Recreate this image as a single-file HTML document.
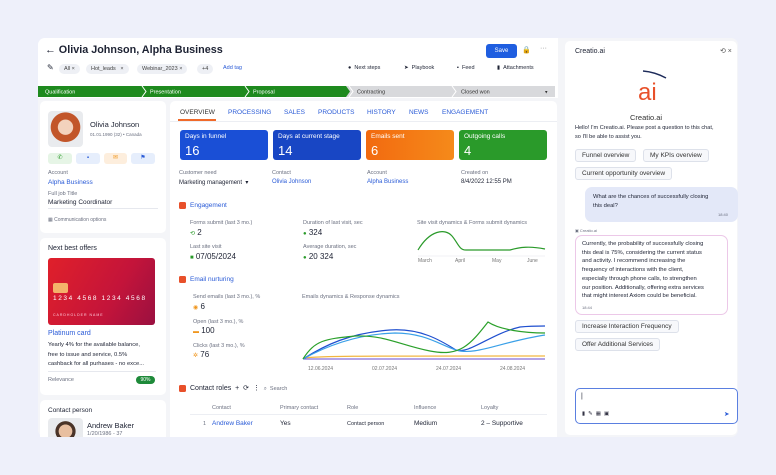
<!DOCTYPE html>
<html><head><meta charset="utf-8"><style>
*{margin:0;padding:0;box-sizing:border-box}
body{width:776px;height:475px;background:#eef0fa;font-family:"Liberation Sans",sans-serif;position:relative;overflow:hidden;color:#1d2233}
.a{position:absolute;white-space:nowrap}
.s{font-size:5.5px;color:#6b7080}
.v{font-size:6.5px;color:#1d2233}
.b{color:#2a5bd7}
.card{position:absolute;background:#fff;border-radius:5px}
.chip{position:absolute;background:#eef0f5;border-radius:7px;font-size:5.5px;color:#444;padding:0 5px;line-height:10px;height:10px}
.kpi{position:absolute;top:130px;width:88px;height:30px;border-radius:3px;color:#fff}
.kpi span{position:absolute;left:5px;top:3px;font-size:6.5px}
.kpi b{position:absolute;left:5px;top:13px;font-size:13px;font-weight:normal}
.cb{position:absolute;border:1px solid #dde1ea;border-radius:3px;background:#f7f8fb;font-size:6.5px;color:#333;padding:0 6px;line-height:12px;height:13px}
.ic{display:inline-block;width:7px;height:7px;border-radius:1.5px;background:#e8502a;vertical-align:middle;margin-right:4px}
</style></head><body>
<div class="card" style="left:38px;top:38px;width:700px;height:399px;background:#f4f5f8;border-radius:7px"></div>
<div class="a" style="left:38px;top:38px;width:520px;height:60px;background:#fff;border-radius:7px 0 0 0"></div>
<div class="a" style="left:45px;top:44px;font-size:10.8px;font-weight:bold;color:#1d2233">← Olivia Johnson, Alpha Business</div>
<div class="a" style="left:486px;top:44px;width:31px;height:14px;background:#1f5ee0;border-radius:3px;color:#fff;font-size:6px;text-align:center;line-height:14px">Save</div>
<div class="a" style="left:522px;top:46px;font-size:7px">🔒</div>
<div class="a" style="left:540px;top:45px;font-size:7px;color:#888">···</div>
<div class="a" style="left:47px;top:63px;font-size:8px">✎</div>
<div class="chip" style="left:59px;top:64px">All ×</div>
<div class="chip" style="left:86px;top:64px">Hot_leads &nbsp;&nbsp;×</div>
<div class="chip" style="left:137px;top:64px">Webinar_2023 ×</div>
<div class="chip" style="left:197px;top:64px">+4</div>
<div class="a b" style="left:223px;top:65px;font-size:5.5px">Add tag</div>
<div class="a" style="left:348px;top:65px;font-size:5.5px">● &nbsp;Next steps</div>
<div class="a" style="left:404px;top:65px;font-size:5.5px">➤ &nbsp;Playbook</div>
<div class="a" style="left:457px;top:65px;font-size:5.5px">▪ &nbsp;Feed</div>
<div class="a" style="left:497px;top:65px;font-size:5.5px">▮ &nbsp;Attachments</div>
<svg class="a" style="left:0;top:0" width="776" height="475">
<path d="M38 86H555V97H38Z" fill="#d8d9dc"/>
<path d="M38 86H346L350 91.5L346 97H38Z" fill="#1e8a1e"/>
<path d="M142 86L146 91.5L142 97M245 86L249 91.5L245 97M349 86L353 91.5L349 97M452 86L456 91.5L452 97" stroke="#fff" stroke-width="1" fill="none"/>
<text x="45" y="93.5" font-size="5.5" fill="#fff" font-family="Liberation Sans">Qualification</text>
<text x="150" y="93.5" font-size="5.5" fill="#fff" font-family="Liberation Sans">Presentation</text>
<text x="253" y="93.5" font-size="5.5" fill="#fff" font-family="Liberation Sans">Proposal</text>
<text x="357" y="93.5" font-size="5.5" fill="#333" font-family="Liberation Sans">Contracting</text>
<text x="461" y="93.5" font-size="5.5" fill="#333" font-family="Liberation Sans">Closed won</text>
<text x="545" y="93.5" font-size="5" fill="#333">▾</text>
</svg>
<!-- left cards -->
<div class="card" style="left:40px;top:101px;width:126px;height:132px"></div>
<div class="a" style="left:48px;top:111px;width:35px;height:36px;border-radius:4px;background:radial-gradient(circle at 50% 45%,#f3d2bd 0 28%,#c2562a 30% 55%,#e9ebee 57%)"></div>
<div class="a" style="left:90px;top:120px;font-size:7.5px">Olivia Johnson</div>
<div class="a s" style="left:90px;top:132px;font-size:4.5px">01.01.1990 (32) • Canada</div>
<div class="a" style="left:48px;top:153px;width:24px;height:11px;background:#e6f5e6;border-radius:3px;color:#2a9a2a;font-size:6px;text-align:center;line-height:11px">✆</div>
<div class="a" style="left:76px;top:153px;width:24px;height:11px;background:#e6eefc;border-radius:3px;color:#2a5bd7;font-size:6px;text-align:center;line-height:11px">▪</div>
<div class="a" style="left:104px;top:153px;width:23px;height:11px;background:#fdeedd;border-radius:3px;color:#f0961e;font-size:6px;text-align:center;line-height:11px">✉</div>
<div class="a" style="left:131px;top:153px;width:24px;height:11px;background:#e6eefc;border-radius:3px;color:#2a5bd7;font-size:6px;text-align:center;line-height:11px">⚑</div>
<div class="a s" style="left:48px;top:170px">Account</div>
<div class="a b" style="left:48px;top:179px;font-size:6.5px">Alpha Business</div>
<div class="a s" style="left:48px;top:191px">Full job Title</div>
<div class="a v" style="left:48px;top:199px">Marketing Coordinator</div>
<div class="a" style="left:48px;top:208px;width:110px;height:1px;background:#e6e8ee"></div>
<div class="a s" style="left:48px;top:217px;font-size:5px">▦ Communication options</div>
<div class="card" style="left:40px;top:238px;width:126px;height:157px"></div>
<div class="a" style="left:48px;top:245px;font-size:7px">Next best offers</div>
<div class="a" style="left:48px;top:258px;width:107px;height:67px;border-radius:3px;background:linear-gradient(120deg,#e0202a,#c4143a 60%,#9a1040)"></div>
<div class="a" style="left:53px;top:283px;width:15px;height:10px;background:#f4b26a;border-radius:2px"></div>
<div class="a" style="left:53px;top:295px;font-size:6.5px;color:#fff;letter-spacing:1.6px">1234 4568 1234 4568</div>
<div class="a" style="left:53px;top:313px;font-size:3.5px;color:#fcd;letter-spacing:1px">CARDHOLDER NAME</div>
<div class="a b" style="left:48px;top:330px;font-size:7px">Platinum card</div>
<div class="a v" style="left:48px;top:341px;font-size:5.8px;line-height:9.5px">Yearly 4% for the available balance,<br>free to issue and service, 0.5%<br>cashback for all purhases - no exce...</div>
<div class="a" style="left:48px;top:371px;width:108px;height:1px;background:#e6e8ee"></div>
<div class="a s" style="left:48px;top:377px">Relevance</div>
<div class="a" style="left:136px;top:376px;width:19px;height:8px;background:#1e8a3a;border-radius:4px;color:#fff;font-size:5px;text-align:center;line-height:8px">90%</div>
<div class="card" style="left:40px;top:400px;width:126px;height:37px;border-radius:5px 5px 0 0"></div>
<div class="a" style="left:48px;top:407px;font-size:6.5px">Contact person</div>
<div class="a" style="left:48px;top:418px;width:35px;height:19px;border-radius:4px 4px 0 0;background:radial-gradient(circle at 50% 70%,#e8bfa0 0 30%,#4a3428 32% 45%,#e9ebee 47%)"></div>
<div class="a" style="left:87px;top:421px;font-size:7.5px">Andrew Baker</div>
<div class="a s" style="left:87px;top:431px">1/20/1986 - 37</div>
<!-- main -->
<div class="card" style="left:170px;top:101px;width:387px;height:336px;border-radius:5px 5px 0 0"></div>
<div class="a" style="left:180px;top:109px;font-size:6.5px;color:#333">OVERVIEW</div>
<div class="a" style="left:178px;top:119px;width:38px;height:1.5px;background:#f06a2a"></div>
<div class="a b" style="left:228px;top:109px;font-size:6.5px">PROCESSING</div>
<div class="a b" style="left:284px;top:109px;font-size:6.5px">SALES</div>
<div class="a b" style="left:318px;top:109px;font-size:6.5px">PRODUCTS</div>
<div class="a b" style="left:367px;top:109px;font-size:6.5px">HISTORY</div>
<div class="a b" style="left:409px;top:109px;font-size:6.5px">NEWS</div>
<div class="a b" style="left:442px;top:109px;font-size:6.5px">ENGAGEMENT</div>
<div class="a" style="left:170px;top:121px;width:387px;height:1px;background:#eceef3"></div>
<div class="kpi" style="left:180px;background:#1a4fd6"><span>Days in funnel</span><b>16</b></div>
<div class="kpi" style="left:273px;background:#1846c4"><span>Days at current stage</span><b>14</b></div>
<div class="kpi" style="left:366px;background:linear-gradient(90deg,#f26a10,#f58a1a)"><span>Emails sent</span><b>6</b></div>
<div class="kpi" style="left:459px;background:#2a9a2a"><span>Outgoing calls</span><b>4</b></div>
<div class="a s" style="left:179px;top:170px">Customer need</div>
<div class="a v" style="left:179px;top:179px;font-size:6px">Marketing management &nbsp;▾</div>
<div class="a s" style="left:272px;top:170px">Contact</div>
<div class="a b" style="left:272px;top:179px;font-size:6px">Olivia Johnson</div>
<div class="a s" style="left:367px;top:170px">Account</div>
<div class="a b" style="left:367px;top:179px;font-size:6px">Alpha Business</div>
<div class="a s" style="left:461px;top:170px">Created on</div>
<div class="a v" style="left:461px;top:179px;font-size:6px">8/4/2022 12:55 PM</div>
<div class="a b" style="left:179px;top:202px;font-size:6.5px"><i class="ic"></i>Engagement</div>
<div class="a s" style="left:190px;top:220px">Forms submit (last 3 mo.)</div>
<div class="a v" style="left:190px;top:228px;font-size:8px"><span style="color:#2a9a2a;font-size:6px">⟲</span> 2</div>
<div class="a s" style="left:190px;top:244px">Last site visit</div>
<div class="a v" style="left:190px;top:252px;font-size:8px"><span style="color:#2a9a2a;font-size:6px">■</span> 07/05/2024</div>
<div class="a s" style="left:303px;top:220px">Duration of last visit, sec</div>
<div class="a v" style="left:303px;top:228px;font-size:8px"><span style="color:#2a9a2a;font-size:6px">●</span> 324</div>
<div class="a s" style="left:303px;top:244px">Average duration, sec</div>
<div class="a v" style="left:303px;top:252px;font-size:8px"><span style="color:#2a9a2a;font-size:6px">●</span> 20 324</div>
<div class="a s" style="left:417px;top:220px">Site visit dynamics &amp; Forms submit dynamics</div>
<div class="a b" style="left:179px;top:276px;font-size:6.5px"><i class="ic"></i>Email nurturing</div>
<div class="a s" style="left:193px;top:294px">Send emails (last 3 mo.), %</div>
<div class="a v" style="left:193px;top:302px;font-size:8px"><span style="color:#f0961e;font-size:6px">◉</span> 6</div>
<div class="a s" style="left:193px;top:319px">Open (last 3 mo.), %</div>
<div class="a v" style="left:193px;top:326px;font-size:8px"><span style="color:#f0961e;font-size:6px">▬</span> 100</div>
<div class="a s" style="left:193px;top:343px">Clicks (last 3 mo.), %</div>
<div class="a v" style="left:193px;top:350px;font-size:8px"><span style="color:#f0961e;font-size:6px">✲</span> 76</div>
<div class="a s" style="left:302px;top:294px">Emails dynamics &amp; Response dynamics</div>
<div class="a" style="left:179px;top:384px;font-size:7px"><i class="ic"></i>Contact roles &nbsp;+ &nbsp;⟳ &nbsp;⋮ &nbsp;<span class="s">⌕ &nbsp;Search</span></div>
<div class="a s" style="left:212px;top:405px">Contact</div>
<div class="a s" style="left:280px;top:405px">Primary contact</div>
<div class="a s" style="left:347px;top:405px">Role</div>
<div class="a s" style="left:414px;top:405px">Influence</div>
<div class="a s" style="left:481px;top:405px">Loyalty</div>
<div class="a" style="left:190px;top:414px;width:357px;height:1px;background:#eceef3"></div>
<div class="a s" style="left:203px;top:421px">1</div>
<div class="a b" style="left:212px;top:420px;font-size:6.5px">Andrew Baker</div>
<div class="a v" style="left:280px;top:420px">Yes</div>
<div class="a v" style="left:347px;top:421px;font-size:5.5px">Contact person</div>
<div class="a v" style="left:414px;top:420px">Medium</div>
<div class="a v" style="left:481px;top:420px">2 – Supportive</div>
<svg class="a" style="left:0;top:0" width="776" height="475" fill="none">
<path d="M418 250C430 230 445 228 452 236C458 243 459 250 466 250L510 250C520 247 530 246 545 249" stroke="#2a9a2a" stroke-width="1.2"/>
<line x1="418" y1="256" x2="545" y2="256" stroke="#e2e4ea" stroke-width=".6"/>
<g font-size="5" fill="#777" font-family="Liberation Sans"><text x="418" y="262">March</text><text x="455" y="262">April</text><text x="492" y="262">May</text><text x="527" y="262">June</text>
<text x="308" y="370">12.06.2024</text><text x="372" y="370">02.07.2024</text><text x="436" y="370">24.07.2024</text><text x="500" y="370">24.08.2024</text></g>
<path d="M303 359L545 359" stroke="#6a4ad0" stroke-width="1"/>
<path d="M303 358C320 356 340 356 545 356" stroke="#f2b640" stroke-width="1.2"/>
<path d="M303 359C325 345 350 333 390 330C420 328 440 340 456 350C470 354 490 334 520 327C530 326 545 326 545 326" stroke="#1f4fcf" stroke-width="1.2"/>
<path d="M303 359C330 344 360 334 395 333C425 333 440 345 456 350C475 356 500 342 545 335" stroke="#3aa0e8" stroke-width="1.2"/>
<path d="M303 359C315 340 325 339 355 336C385 335 400 345 430 351C460 357 470 345 488 322C500 330 525 333 545 333" stroke="#2aa02a" stroke-width="1.2"/>
</svg>
<!-- chat -->
<div class="card" style="left:565px;top:41px;width:172px;height:394px"></div>
<div class="a" style="left:575px;top:48px;font-size:7px">Creatio.ai</div>
<div class="a" style="left:720px;top:47px;font-size:7px;color:#555">⟲ ×</div>
<svg class="a" style="left:635px;top:68px" width="34" height="36"><path d="M8 3Q20 4 31 10" stroke="#1d2b5a" stroke-width="1.5" fill="none"/><text x="3" y="32" font-size="24" fill="#e8502a" font-family="Liberation Sans">ai</text></svg>
<div class="a" style="left:630px;top:113px;font-size:7.5px;color:#333">Creatio.ai</div>
<div class="a v" style="left:575px;top:124px;font-size:5.6px;line-height:9px">Hello! I'm Creatio.ai. Please post a question to this chat,<br>so I'll be able to assist you.</div>
<div class="cb" style="left:575px;top:149px">Funnel overview</div>
<div class="cb" style="left:643px;top:149px">My KPIs overview</div>
<div class="cb" style="left:575px;top:167px">Current opportunity overview</div>
<div class="a" style="left:585px;top:187px;width:153px;height:35px;background:#e3e8f8;border-radius:7px"></div>
<div class="a v" style="left:593px;top:193px;font-size:5.8px;line-height:9px">What are the chances of successfully closing<br>this deal?</div>
<div class="a s" style="left:718px;top:212px;font-size:4px">18:40</div>
<div class="a s" style="left:575px;top:228px;font-size:4px">▣ Creatio.ai</div>
<div class="a" style="left:575px;top:235px;width:153px;height:80px;border:1px solid #ecc8e8;border-radius:7px;background:#fff"></div>
<div class="a v" style="left:582px;top:240px;font-size:5.8px;line-height:8.7px">Currently, the probability of successfully closing<br>this deal is 75%, considering the current status<br>and activity. I recommend increasing the<br>frequency of interactions with the client,<br>especially through phone calls, to strengthen<br>our position. Additionally, offering extra services<br>that might interest Axiom could be beneficial.</div>
<div class="a s" style="left:582px;top:305px;font-size:4px">18:44</div>
<div class="cb" style="left:575px;top:320px">Increase Interaction Frequency</div>
<div class="cb" style="left:575px;top:338px">Offer Additional Services</div>
<div class="a" style="left:575px;top:388px;width:163px;height:36px;border:1px solid #5a7fe0;border-radius:5px;background:#fff"></div>
<div class="a" style="left:581px;top:393px;font-size:7px">|</div>
<div class="a" style="left:582px;top:411px;font-size:5.5px;color:#334">▮ &nbsp;✎ &nbsp;▦ &nbsp;▣</div>
<div class="a" style="left:724px;top:410px;font-size:6.5px;color:#2a5bd7">➤</div>
</body></html>
